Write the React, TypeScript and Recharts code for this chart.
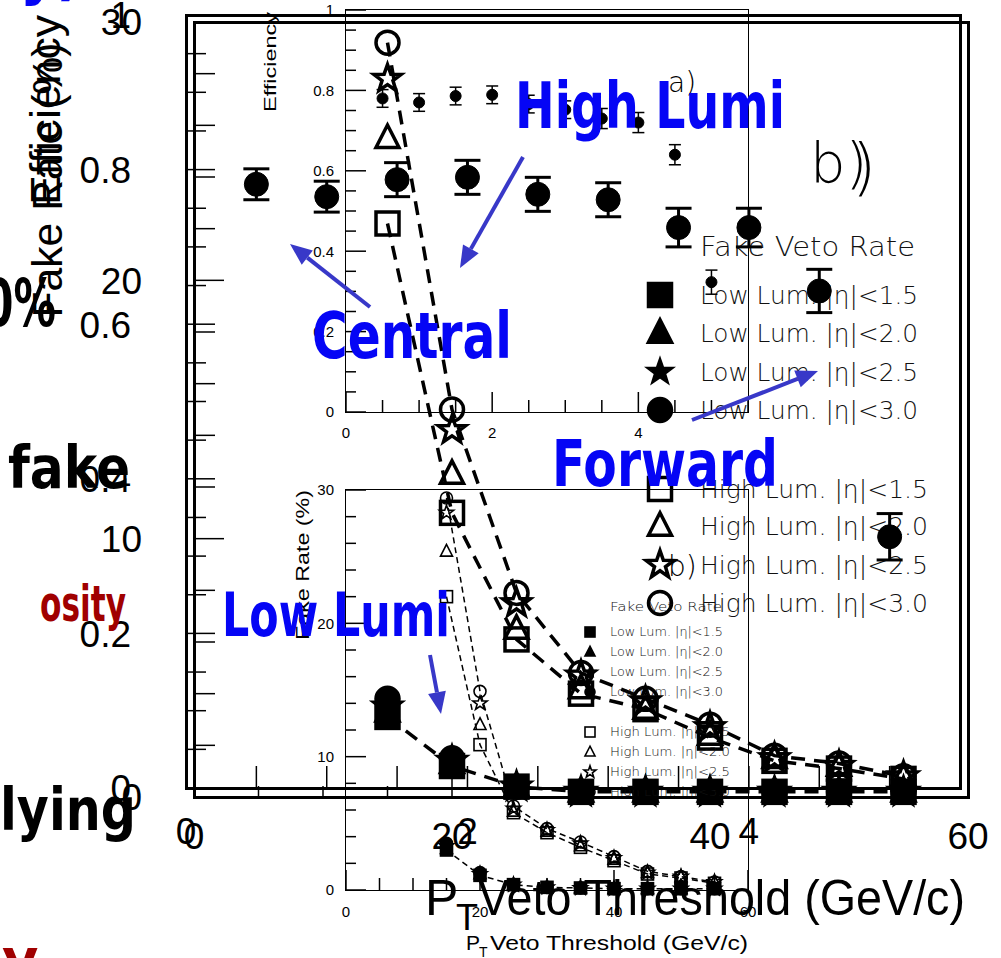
import React from "react";
import { ComposedChart, Scatter, Line, XAxis, YAxis, ErrorBar, Legend } from "recharts";

const W = 1001;
const H = 958;
const ARIAL = "'Liberation Sans', Arial, sans-serif";
const ROOTF = "'DejaVu Sans', sans-serif";
const HAND = "'Comic Sans MS', 'DejaVu Sans', sans-serif";

// PT veto thresholds (GeV/c)
const PT = [15, 20, 25, 30, 35, 40, 45, 50, 55];

// large panel: fake veto rate (%)
const HIGH_15 = [22.2, 11.0, 6.1, 4.0, 3.4, 2.3, 1.4, 1.1, 0.7];
const HIGH_20 = [25.5, 12.5, 6.5, 4.2, 3.4, 2.4, 1.5, 1.2, 0.8];
const HIGH_25 = [27.8, 14.2, 7.5, 4.7, 3.7, 2.7, 1.5, 1.2, 0.8];
const HIGH_30 = [29.2, 15.0, 7.9, 4.8, 3.8, 2.8, 1.6, 1.3, 0.8];
const LOW_15 = [3.1, 1.2, 0.4, 0.2, 0.2, 0.2, 0.2, 0.2, 0.2];
const LOW_20 = [3.3, 1.3, 0.4, 0.2, 0.2, 0.2, 0.2, 0.2, 0.2];
const LOW_25 = [3.5, 1.4, 0.4, 0.2, 0.2, 0.2, 0.2, 0.2, 0.2];
const LOW_30 = [3.8, 1.5, 0.4, 0.2, 0.2, 0.2, 0.2, 0.2, 0.2];

// small inset panel: fake veto rate (%)
const IN_HIGH_15 = [22.0, 10.9, 5.8, 4.3, 3.2, 2.2, 1.2, 0.9, 0.5];
const IN_HIGH_20 = [25.4, 12.4, 5.9, 4.4, 3.3, 2.3, 1.3, 1.0, 0.6];
const IN_HIGH_25 = [28.3, 14.0, 6.1, 4.5, 3.5, 2.4, 1.3, 1.0, 0.6];
const IN_HIGH_30 = [29.4, 14.9, 6.3, 4.6, 3.6, 2.5, 1.4, 1.0, 0.6];
const IN_LOW_15 = [3.0, 1.1, 0.4, 0.2, 0.15, 0.1, 0.1, 0.1, 0.1];
const IN_LOW_20 = [3.1, 1.2, 0.4, 0.2, 0.15, 0.1, 0.1, 0.1, 0.1];
const IN_LOW_25 = [3.3, 1.2, 0.4, 0.2, 0.15, 0.1, 0.1, 0.1, 0.1];
const IN_LOW_30 = [3.5, 1.3, 0.4, 0.2, 0.15, 0.1, 0.1, 0.1, 0.1];

// efficiency vs eta
const ETA = [0.5, 1.0, 1.5, 2.0, 2.5, 3.0, 3.5, 4.0, 4.5, 5.0];
const EFF_A = [0.78, 0.77, 0.786, 0.789, 0.766, 0.752, 0.73, 0.72, 0.64, 0.323];
const EFF_A_ERR = [0.022, 0.022, 0.022, 0.022, 0.022, 0.022, 0.025, 0.025, 0.025, 0.03];
const EFF_B = [0.781, 0.765, 0.787, 0.79, 0.768, 0.761, 0.725, 0.725, 0.643, 0.325];
const EFF_B_ERR = [0.02, 0.02, 0.022, 0.022, 0.022, 0.022, 0.025, 0.025, 0.028, 0.03];

// axis ticks
const RATE_TICKS = [0, 2, 4, 6, 8, 10, 12, 14, 16, 18, 20, 22, 24, 26, 28, 30];
const RATE_LABELS = [0, 10, 20, 30];
const PT_TICKS = [0, 5, 10, 15, 20, 25, 30, 35, 40, 45, 50, 55, 60];
const PT_LABELS = [0, 20, 40, 60];
const EFF_TICKS = [0, 0.05, 0.1, 0.15, 0.2, 0.25, 0.3, 0.35, 0.4, 0.45, 0.5, 0.55, 0.6, 0.65, 0.7, 0.75, 0.8, 0.85, 0.9, 0.95, 1];
const EFF_LABELS = [0, 0.2, 0.4, 0.6, 0.8, 1];
const ETA_TICKS = [0, 0.5, 1, 1.5, 2, 2.5, 3, 3.5, 4, 4.5, 5, 5.5];
const ETA_LABELS = [0, 2, 4];

const NAMES = [
  "Low Lum. |η|<1.5",
  "Low Lum. |η|<2.0",
  "Low Lum. |η|<2.5",
  "Low Lum. |η|<3.0",
  "High Lum. |η|<1.5",
  "High Lum. |η|<2.0",
  "High Lum. |η|<2.5",
  "High Lum. |η|<3.0",
];
type Kind = "square" | "triangle" | "star" | "circle";
const KINDS: Kind[] = ["square", "triangle", "star", "circle", "square", "triangle", "star", "circle"];
const FILLED = [true, true, true, true, false, false, false, false];

const pts = (xs: number[], ys: number[], es?: number[]) =>
  xs.map((x, i) => ({ x, y: ys[i], e: es ? es[i] : 0 }));

const BIG_VALUES = [LOW_15, LOW_20, LOW_25, LOW_30, HIGH_15, HIGH_20, HIGH_25, HIGH_30];
const IN_VALUES = [IN_LOW_15, IN_LOW_20, IN_LOW_25, IN_LOW_30, IN_HIGH_15, IN_HIGH_20, IN_HIGH_25, IN_HIGH_30];
const DASHED = [true, false, false, false, true, false, false, true];

function starPts(cx: number, cy: number, R: number, r: number) {
  const out: string[] = [];
  for (let i = 0; i < 10; i++) {
    const a = -Math.PI / 2 + (i * Math.PI) / 5;
    const d = i % 2 === 0 ? R : r;
    out.push(`${cx + d * Math.cos(a)},${cy + d * Math.sin(a)}`);
  }
  return out.join(" ");
}

function Mark({ cx, cy, kind, r, filled, sw }: { cx?: number; cy?: number; kind: Kind; r: number; filled: boolean; sw: number }) {
  if (cx == null || cy == null) return null;
  const fill = filled ? "#000" : "none";
  if (kind === "square")
    return <rect x={cx - r} y={cy - r} width={2 * r} height={2 * r} fill={fill} stroke="#000" strokeWidth={sw} />;
  if (kind === "circle") return <circle cx={cx} cy={cy} r={r} fill={fill} stroke="#000" strokeWidth={sw} />;
  if (kind === "triangle")
    return (
      <polygon
        points={`${cx},${cy - r * 1.15} ${cx - r},${cy + r * 0.8} ${cx + r},${cy + r * 0.8}`}
        fill={fill}
        stroke="#000"
        strokeWidth={sw}
      />
    );
  return <polygon points={starPts(cx, cy, r * 1.25, r * 0.5)} fill={fill} stroke="#000" strokeWidth={sw} />;
}

const isIn = (list: number[], v: number) => list.some((l) => Math.abs(l - v) < 1e-6);
const fmt = (v: number) => String(+v.toFixed(2));

function leftTick(labels: number[], major: number, minor: number, font: number, gap: number) {
  return (p: any) => {
    const v = p.payload.value;
    const big = isIn(labels, v);
    return (
      <g>
        <line x1={p.x} x2={p.x + (big ? major : minor)} y1={p.y} y2={p.y} stroke="#000" strokeWidth={1.5} />
        {big && (
          <text x={p.x - gap} y={p.y} dy="0.36em" textAnchor="end" fontSize={font} fontFamily={ARIAL} fill="#000">
            {fmt(v)}
          </text>
        )}
      </g>
    );
  };
}

function bottomTick(labels: number[], major: number, minor: number, font: number, off: number) {
  return (p: any) => {
    const v = p.payload.value;
    const big = isIn(labels, v);
    return (
      <g>
        <line x1={p.x} x2={p.x} y1={p.y} y2={p.y - (big ? major : minor)} stroke="#000" strokeWidth={1.5} />
        {big && (
          <text x={p.x} y={p.y + off} textAnchor="middle" fontSize={font} fontFamily={ARIAL} fill="#000">
            {fmt(v)}
          </text>
        )}
      </g>
    );
  };
}

function LegendBox(props: {
  w: number;
  h: number;
  titleX: number;
  titleY: number;
  titleSize: number;
  titleLen: number;
  textX: number;
  rows: number[];
  textSize: number;
  lens: number[];
  markX: number;
  markR: number;
  sw: number;
}) {
  return (
    <svg width={props.w} height={props.h} style={{ overflow: "visible", display: "block" }}>
      <text
        x={props.titleX}
        y={props.titleY}
        fontSize={props.titleSize}
        fontFamily={ROOTF}
        fontWeight={200}
        textLength={props.titleLen}
        lengthAdjust="spacingAndGlyphs"
        fill="#111"
      >
        Fake Veto Rate
      </text>
      {NAMES.map((n, i) => (
        <g key={n}>
          <Mark cx={props.markX} cy={props.rows[i]} kind={KINDS[i]} r={KINDS[i] === "star" && FILLED[i] ? props.markR * 0.8 : props.markR} filled={FILLED[i]} sw={props.sw} />
          <text
            x={props.textX}
            y={props.rows[i]}
            dy="0.36em"
            fontSize={props.textSize}
            fontFamily={ROOTF}
            fontWeight={200}
            textLength={props.lens[i]}
            lengthAdjust="spacingAndGlyphs"
            fill="#111"
          >
            {n}
          </text>
        </g>
      ))}
    </svg>
  );
}

function renderRate(values: number[][], r: number, sw: number, dash: string, lw: number, prefix: string) {
  const lines = values.map((v, i) =>
    DASHED[i] ? (
      <Line
        key={prefix + "l" + i}
        data={pts(PT, v)}
        dataKey="y"
        type="linear"
        stroke="#000"
        strokeWidth={lw}
        strokeDasharray={dash}
        dot={false}
        legendType="none"
        isAnimationActive={false}
      />
    ) : null
  );
  const marks = values.map((v, i) => (
    <Scatter
      key={prefix + "s" + i}
      name={NAMES[i]}
      data={pts(PT, v)}
      dataKey="y"
      isAnimationActive={false}
      shape={(p: any) => <Mark cx={p.cx} cy={p.cy} kind={KINDS[i]} r={r} filled={FILLED[i]} sw={sw} />}
    />
  ));
  return [...lines, ...marks];
}

function BigRateChart() {
  return (
    <ComposedChart width={W} height={H} margin={{ top: 22, right: 33, left: 114, bottom: 101 }}>
      <XAxis type="number" dataKey="x" domain={[0, 60]} ticks={PT_TICKS} interval={0} tickSize={0} tickMargin={0} tickLine={false} axisLine={false} height={60} tick={bottomTick(PT_LABELS, 20, 11, 37, 52)} />
      <YAxis type="number" dataKey="y" domain={[0, 30]} ticks={RATE_TICKS} interval={0} tickSize={0} tickMargin={0} tickLine={false} axisLine={false} width={80} tick={leftTick(RATE_LABELS, 30, 21, 37, 52)} />
      {renderRate(BIG_VALUES, 11.5, 3.5, "14 9", 3.5, "big")}
      <Legend
        layout="vertical"
        align="center"
        verticalAlign="middle"
        width={300}
        height={400}
        wrapperStyle={{ left: 640, top: 225, width: 300, height: 400 }}
        content={() => (
          <LegendBox w={300} h={400} titleX={60} titleY={31} titleSize={27} titleLen={215} textX={60} rows={[70, 108, 147, 185, 264, 301, 340, 378]} textSize={25} lens={[218, 218, 218, 218, 228, 228, 228, 228]} markX={20} markR={11.5} sw={3.5} />
        )}
      />
    </ComposedChart>
  );
}

function BigEffChart() {
  return (
    <ComposedChart width={W} height={H} margin={{ top: 15, right: 41, left: 106, bottom: 110 }}>
      <XAxis type="number" dataKey="x" domain={[0, 5.5]} ticks={ETA_TICKS} interval={0} tickSize={0} tickMargin={0} tickLine={false} axisLine={false} height={60} tick={bottomTick(ETA_LABELS, 22, 22, 37, 56)} />
      <YAxis type="number" dataKey="y" domain={[0, 1]} ticks={EFF_TICKS} interval={0} tickSize={0} tickMargin={0} tickLine={false} axisLine={false} width={80} tick={leftTick(EFF_LABELS, 29, 20, 37, 55)} />
      <Scatter
        name="Efficiency b"
        data={pts(ETA, EFF_B, EFF_B_ERR)}
        dataKey="y"
        isAnimationActive={false}
        shape={(p: any) => <Mark cx={p.cx} cy={p.cy} kind="circle" r={12} filled sw={1} />}
      >
        <ErrorBar dataKey="e" direction="y" width={13} strokeWidth={3} stroke="#000" />
      </Scatter>
    </ComposedChart>
  );
}

function TopInset() {
  return (
    <ComposedChart width={W} height={H} margin={{ top: 10, right: 253, left: 296, bottom: 506 }}>
      <XAxis type="number" dataKey="x" domain={[0, 5.5]} ticks={ETA_TICKS} interval={0} tickSize={0} tickMargin={0} tickLine={false} axisLine={false} height={40} tick={bottomTick(ETA_LABELS, 20, 12, 15, 26)} />
      <YAxis type="number" dataKey="y" domain={[0, 1]} ticks={EFF_TICKS} interval={0} tickSize={0} tickMargin={0} tickLine={false} axisLine={false} width={50} tick={leftTick(EFF_LABELS, 20, 10, 15, 12)} />
      <Scatter
        name="Efficiency a"
        data={pts(ETA, EFF_A, EFF_A_ERR)}
        dataKey="y"
        isAnimationActive={false}
        shape={(p: any) => <Mark cx={p.cx} cy={p.cy} kind="circle" r={5.5} filled sw={1} />}
      >
        <ErrorBar dataKey="e" direction="y" width={6} strokeWidth={1.5} stroke="#000" />
      </Scatter>
    </ComposedChart>
  );
}

function BottomInset() {
  return (
    <ComposedChart width={W} height={H} margin={{ top: 490, right: 253, left: 296, bottom: 28 }}>
      <XAxis type="number" dataKey="x" domain={[0, 60]} ticks={PT_TICKS} interval={0} tickSize={0} tickMargin={0} tickLine={false} axisLine={false} height={40} tick={bottomTick(PT_LABELS, 20, 12, 15, 27)} />
      <YAxis type="number" dataKey="y" domain={[0, 30]} ticks={RATE_TICKS} interval={0} tickSize={0} tickMargin={0} tickLine={false} axisLine={false} width={50} tick={leftTick(RATE_LABELS, 20, 10, 15, 12)} />
      {renderRate(IN_VALUES, 6, 1.6, "6 4", 1.5, "in")}
      <Legend
        layout="vertical"
        align="center"
        verticalAlign="middle"
        width={170}
        height={210}
        wrapperStyle={{ left: 580, top: 596, width: 170, height: 210 }}
        content={() => (
          <LegendBox w={170} h={210} titleX={30} titleY={15} titleSize={12.5} titleLen={112} textX={30} rows={[36, 56, 76, 96, 136, 156, 176, 196]} textSize={11.5} lens={[113, 113, 113, 113, 120, 120, 120, 120]} markX={10} markR={5} sw={1.6} />
        )}
      />
    </ComposedChart>
  );
}

function Frame({ l, t, w, h, bw }: { l: number; t: number; w: number; h: number; bw: number }) {
  return (
    <div
      style={{
        position: "absolute",
        left: l - bw / 2,
        top: t - bw / 2,
        width: w + bw,
        height: h + bw,
        border: `${bw}px solid #000`,
        boxSizing: "border-box",
        pointerEvents: "none",
      }}
    />
  );
}

function Arrow({ x1, y1, x2, y2 }: { x1: number; y1: number; x2: number; y2: number }) {
  const dx = x2 - x1;
  const dy = y2 - y1;
  const len = Math.hypot(dx, dy);
  const ux = dx / len;
  const uy = dy / len;
  const hl = 22;
  const hw = 9;
  const bx = x2 - ux * hl;
  const by = y2 - uy * hl;
  return (
    <g>
      <line x1={x1} y1={y1} x2={bx} y2={by} stroke="#3838c8" strokeWidth={4} />
      <polygon points={`${x2},${y2} ${bx - uy * hw},${by + ux * hw} ${bx + uy * hw},${by - ux * hw}`} fill="#3838c8" />
    </g>
  );
}

function Overlay() {
  const blue = "#0505f5";
  const hand = { fontFamily: HAND, fontWeight: 700 as const, lengthAdjust: "spacingAndGlyphs" as const };
  return (
    <svg width={W} height={H} style={{ position: "absolute", left: 0, top: 0, pointerEvents: "none" }}>
      {/* slide text cut at the left edge */}
      <text x={20} y={-6} fontSize={56} fill={blue} {...hand}>y)</text>
      <text x={-16} y={326} fontSize={66} fill="#000" textLength={72} {...hand}>0%</text>
      <text x={8} y={488} fontSize={58} fill="#000" textLength={122} {...hand}>fake</text>
      <text x={40} y={621} fontSize={50} fill="#a00000" textLength={86} {...hand}>osity</text>
      <text x={0} y={830} fontSize={58} fill="#000" textLength={136} {...hand}>lying</text>
      <text x={2} y={978} fontSize={56} fill="#a00000" {...hand}>y</text>

      {/* big axis titles */}
      <text transform="rotate(-90)" x={-110} y={60} textAnchor="middle" fontSize={42} fontFamily={ARIAL} textLength={190} lengthAdjust="spacingAndGlyphs">Efficiency</text>
      <text transform="rotate(-90)" x={-180} y={62} textAnchor="middle" fontSize={42} fontFamily={ARIAL} textLength={275} lengthAdjust="spacingAndGlyphs">Fake Rate (%)</text>
      <text x={425} y={915} fontSize={50} fontFamily={ARIAL}>P</text>
      <text x={456} y={930} fontSize={36} fontFamily={ARIAL}>T</text>
      <text x={478} y={915} fontSize={50} fontFamily={ARIAL} textLength={487} lengthAdjust="spacingAndGlyphs">Veto Threshold (GeV/c)</text>

      {/* inset axis titles */}
      <text transform="rotate(-90)" x={-62} y={276} textAnchor="middle" fontSize={17} fontFamily={ARIAL} textLength={100} lengthAdjust="spacingAndGlyphs">Efficiency</text>
      <text transform="rotate(-90)" x={-565} y={309} textAnchor="middle" fontSize={19} fontFamily={ARIAL} textLength={150} lengthAdjust="spacingAndGlyphs">Fake Rate (%)</text>
      <text x={466} y={950} fontSize={21} fontFamily={ARIAL}>P</text>
      <text x={479} y={957} fontSize={14} fontFamily={ARIAL}>T</text>
      <text x={490} y={950} fontSize={21} fontFamily={ARIAL} textLength={258} lengthAdjust="spacingAndGlyphs">Veto Threshold (GeV/c)</text>

      {/* panel tags */}
      <text x={668} y={92} fontSize={28} fontFamily={ROOTF} fontWeight={200}>a)</text>
      <text x={810} y={182} fontSize={56} fontFamily={ROOTF} fontWeight={200}>b)</text>
      <text x={852} y={188} fontSize={62} fontFamily={ROOTF} fontWeight={200}>)</text>
      <text x={668} y={576} fontSize={28} fontFamily={ROOTF} fontWeight={200}>b)</text>

      {/* blue handwritten notes */}
      <text x={515} y={128} fontSize={64} fill={blue} textLength={270} {...hand}>High Lumi</text>
      <text x={312} y={358} fontSize={64} fill={blue} textLength={200} {...hand}>Central</text>
      <text x={552} y={486} fontSize={64} fill={blue} textLength={226} {...hand}>Forward</text>
      <text x={222} y={636} fontSize={60} fill={blue} textLength={228} {...hand}>Low Lumi</text>
      <Arrow x1={523} y1={157} x2={460} y2={268} />
      <Arrow x1={370} y1={307} x2={290} y2={244} />
      <Arrow x1={692} y1={420} x2={818} y2={371} />
      <Arrow x1={430} y1={655} x2={441} y2={714} />
    </svg>
  );
}

const layer: React.CSSProperties = { position: "absolute", left: 0, top: 0 };

export default function App() {
  return (
    <div style={{ position: "absolute", left: 0, top: 0, width: W, height: H, background: "#fff", overflow: "hidden" }}>
      <div style={layer}>
        <BigRateChart />
      </div>
      <div style={layer}>
        <BigEffChart />
      </div>
      <div style={layer}>
        <TopInset />
      </div>
      <div style={layer}>
        <BottomInset />
      </div>
      <Frame l={186} t={15} w={774} h={773} bw={3} />
      <Frame l={194} t={22} w={774} h={775} bw={3} />
      <Frame l={346} t={10} w={402} h={402} bw={1.5} />
      <Frame l={346} t={490} w={402} h={400} bw={1.5} />
      <Overlay />
    </div>
  );
}
